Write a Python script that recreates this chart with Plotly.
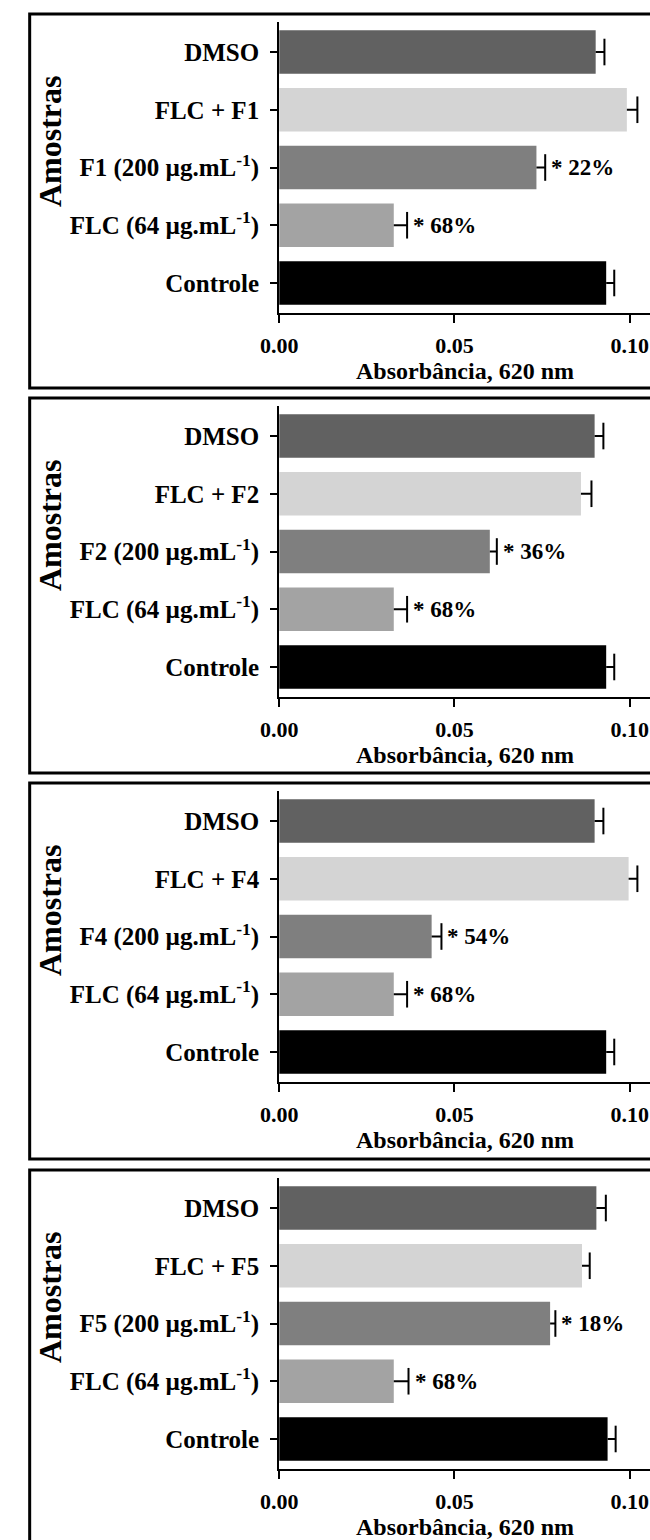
import plotly.graph_objects as go

H = 1540.0
W = 650.0

categories_base = ["Controle", "FLC (64 µg.mL<sup>-1</sup>)"]
fractions = ["F1", "F2", "F4", "F5"]

# values per panel, order: Controle, FLC(64), Fx(200), FLC+Fx, DMSO
values = {
    "F1": [0.0933, 0.0327, 0.0734, 0.0992, 0.0903],
    "F2": [0.0933, 0.0327, 0.0601, 0.0861, 0.0900],
    "F4": [0.0933, 0.0327, 0.0435, 0.0997, 0.0900],
    "F5": [0.0937, 0.0327, 0.0773, 0.0864, 0.0905],
}
errors = {
    "F1": [0.0023, 0.0038, 0.0025, 0.0030, 0.0025],
    "F2": [0.0023, 0.0038, 0.0020, 0.0030, 0.0025],
    "F4": [0.0023, 0.0038, 0.0028, 0.0025, 0.0025],
    "F5": [0.0023, 0.0042, 0.0015, 0.0022, 0.0027],
}
inhibition = {"F1": "22%", "F2": "36%", "F4": "54%", "F5": "18%"}
flc_inhibition = "68%"

bar_colors = ["#000000", "#a3a3a3", "#7f7f7f", "#d4d4d4", "#616161"]

x_title = "Absorbância, 620 nm"
y_title = "Amostras"
x_ticks = [0.0, 0.05, 0.10]
x_ticklabels = ["0.00", "0.05", "0.10"]

# layout geometry (page pixels)
frame_tops = [14, 398, 783, 1170]
frame_bottoms = [388, 773, 1159, 1556]
axis_bottoms = [313, 697, 1082, 1469]
axis_height = 291
x_left = 268

def py(v):
    return 1 - v / H

fig = go.Figure()
font_family = "Liberation Serif"
shapes = []
annotations = []

for i, fr in enumerate(fractions):
    n = i + 1
    xa = "x" if n == 1 else f"x{n}"
    ya = "y" if n == 1 else f"y{n}"
    cats = categories_base + [f"{fr} (200 µg.mL<sup>-1</sup>)", f"FLC + {fr}", "DMSO"]
    vals = values[fr]
    errs = errors[fr]
    fig.add_trace(go.Bar(
        x=vals, y=cats, orientation="h",
        marker=dict(color=bar_colors, line=dict(width=0)),
        width=0.75,
        xaxis=xa, yaxis=ya, showlegend=False, hoverinfo="skip",
    ))
    # one-sided error bars: whisker from bar end to cap
    wx, wy = [], []
    for v, e, c in zip(vals, errs, cats):
        wx += [v, v + e, None]
        wy += [c, c, None]
    fig.add_trace(go.Scatter(
        x=wx, y=wy, mode="lines", line=dict(color="black", width=2),
        xaxis=xa, yaxis=ya, showlegend=False, hoverinfo="skip",
    ))
    fig.add_trace(go.Scatter(
        x=[v + e for v, e in zip(vals, errs)], y=cats, mode="markers",
        marker=dict(symbol="line-ns", size=19, line=dict(color="black", width=2)),
        xaxis=xa, yaxis=ya, showlegend=False, hoverinfo="skip", cliponaxis=False,
    ))
    bottom = axis_bottoms[i]
    top = bottom - axis_height
    xkey = "xaxis" if n == 1 else f"xaxis{n}"
    ykey = "yaxis" if n == 1 else f"yaxis{n}"
    fig.layout[xkey] = dict(
        domain=[x_left / W, 1.0], anchor=ya, range=[0, 0.1058],
        tickvals=x_ticks, ticktext=x_ticklabels,
        ticks="outside", ticklen=8, tickwidth=2, tickcolor="black",
        showline=True, linewidth=2, linecolor="black",
        showgrid=False, zeroline=False,
        tickfont=dict(family=font_family, size=22, color="black", weight="bold"),
        ticklabelstandoff=4,
    )
    fig.layout[ykey] = dict(
        domain=[py(bottom), py(top)], anchor=xa,
        type="category", categoryorder="array", categoryarray=cats,
        range=[-0.52, 4.52],
        ticks="outside", ticklen=7, tickwidth=2, tickcolor="black",
        showline=True, linewidth=2, linecolor="black",
        showgrid=False, zeroline=False,
        tickfont=dict(family=font_family, size=25, color="black", weight="bold"),
        ticklabelstandoff=6,
    )
    # frame
    shapes.append(dict(type="rect", xref="paper", yref="paper",
                       x0=11 / W, x1=1.02, y0=py(frame_bottoms[i]), y1=py(frame_tops[i]),
                       line=dict(color="black", width=3), fillcolor="rgba(0,0,0,0)", layer="above"))
    # axis titles
    annotations.append(dict(text=x_title, xref="paper", yref="paper",
                            x=(x_left + W) / 2 / W, y=py(frame_tops[i] + 357),
                            xanchor="center", yanchor="middle", showarrow=False,
                            font=dict(family=font_family, size=24, color="black", weight="bold")))
    annotations.append(dict(text=y_title, xref="paper", yref="paper",
                            x=32 / W, y=py(frame_tops[i] + 127),
                            xanchor="center", yanchor="middle", showarrow=False, textangle=-90,
                            font=dict(family=font_family, size=32, color="black", weight="bold")))
    # significance labels
    for idx, lab in [(1, flc_inhibition), (2, inhibition[fr])]:
        annotations.append(dict(text="* " + lab, xref=xa, yref=ya,
                                x=vals[idx] + errs[idx], y=cats[idx],
                                xanchor="left", yanchor="middle", xshift=4, showarrow=False,
                                font=dict(family=font_family, size=23, color="black", weight="bold")))

fig.update_layout(
    width=650, height=1540,
    margin=dict(l=0, r=0, t=0, b=0),
    paper_bgcolor="white", plot_bgcolor="white",
    shapes=shapes, annotations=annotations,
    bargap=0.25,
)

fig.write_html("out.html")
